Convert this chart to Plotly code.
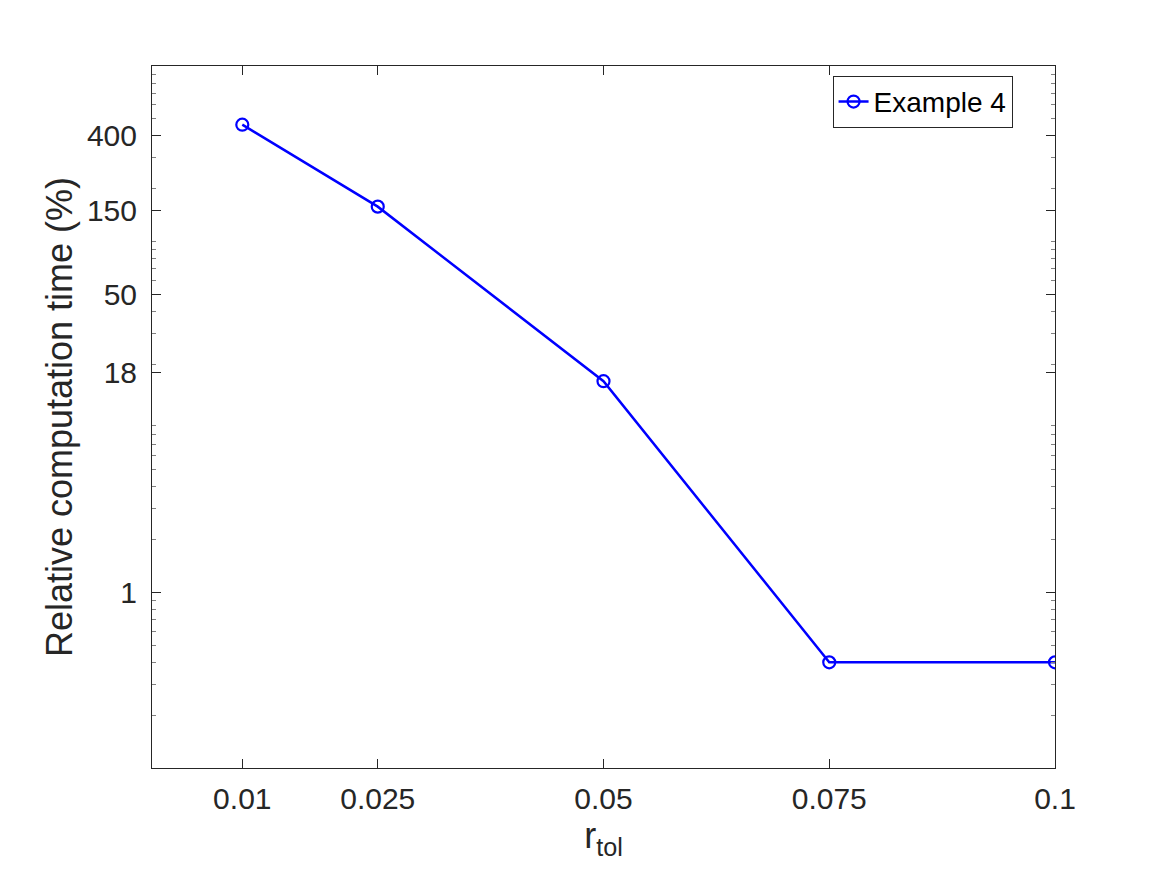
import plotly.graph_objects as go

r_tol = [0.01, 0.025, 0.05, 0.075, 0.1]
rel_time = [463, 158, 16.0, 0.4, 0.4]
series_name = "Example 4"

x_ticks = [0.01, 0.025, 0.05, 0.075, 0.1]
x_ticklabels = ["0.01", "0.025", "0.05", "0.075", "0.1"]
y_ticks = [1, 18, 50, 150, 400]
y_ticklabels = ["1", "18", "50", "150", "400"]
y_minor = [0.2, 0.3, 0.4, 0.5, 0.6, 0.7, 0.8, 0.9,
           2, 3, 4, 5, 6, 7, 8, 9,
           20, 30, 40, 60, 70, 80, 90,
           100, 200, 300, 500, 600, 700, 800, 900]

axc = "#262626"
font = "Liberation Sans, Arial, Helvetica, sans-serif"

fig = go.Figure()
fig.add_trace(go.Scatter(
    x=r_tol, y=rel_time, name=series_name, mode="lines+markers",
    line=dict(color="#0000ff", width=2.5),
    marker=dict(symbol="circle-open", size=12, color="#0000ff", line=dict(width=2.2, color="#0000ff")),
))

fig.update_layout(
    width=1159, height=867,
    margin=dict(l=144, r=112, t=58, b=107),
    paper_bgcolor="white", plot_bgcolor="white",
    font=dict(family=font, color=axc),
    showlegend=True,
    legend=dict(x=0.953, y=0.986, xanchor="right", yanchor="top",
                bgcolor="white", bordercolor=axc, borderwidth=1,
                font=dict(size=28, color="black", family=font)),
)
fig.update_xaxes(
    range=[0, 0.1], tickvals=x_ticks, ticktext=x_ticklabels,
    ticks="inside", ticklen=9, tickwidth=1, tickcolor=axc,
    showline=True, linecolor=axc, linewidth=1, mirror="ticks",
    showgrid=False, zeroline=False,
    tickfont=dict(size=30, color=axc), ticklabelstandoff=4,
    title=dict(text="r<sub>tol</sub>", font=dict(size=36, color=axc), standoff=6),
)
fig.update_yaxes(
    type="log", range=[-1, 3], tickvals=y_ticks, ticktext=y_ticklabels,
    ticks="inside", ticklen=9, tickwidth=1, tickcolor=axc,
    showline=True, linecolor=axc, linewidth=1, mirror="ticks",
    showgrid=False, zeroline=False,
    tickfont=dict(size=30, color=axc), ticklabelstandoff=8,
    minor=dict(tickvals=y_minor, ticks="inside", ticklen=4, tickcolor="#808080", tickwidth=1, showgrid=False),
    title=dict(text="Relative computation time (%)", font=dict(size=36, color=axc), standoff=3),
)

fig.write_html("out.html")
